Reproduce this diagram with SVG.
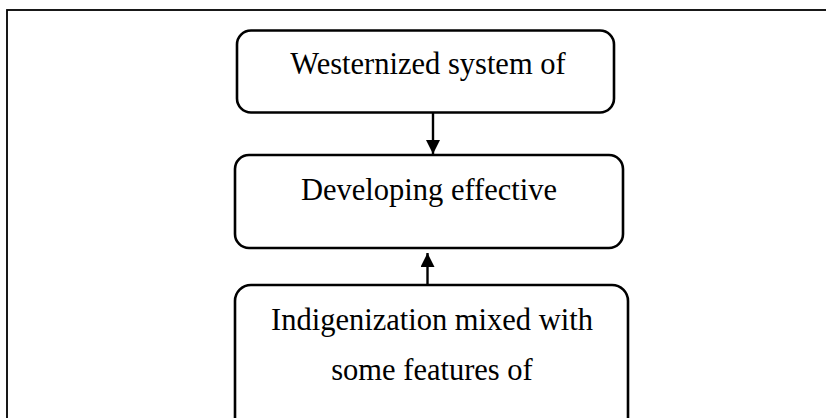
<svg xmlns="http://www.w3.org/2000/svg" width="826" height="418" viewBox="0 0 826 418">
  <style>
    .frame { fill: none; stroke: #000; stroke-width: 1.8; }
    .box { fill: #fff; stroke: #000; stroke-width: 2.6; }
    .label { font-family: "Liberation Serif", "Times New Roman", serif; font-size: 30.5px; fill: #000; text-anchor: middle; }
    .link { stroke: #000; stroke-width: 2.4; fill: none; }
  </style>
  <defs>
    <marker id="arrowhead" markerUnits="userSpaceOnUse" markerWidth="16" markerHeight="16" refX="14" refY="7" orient="auto">
      <path d="M0,0 L14,7 L0,14 Z" fill="#000"/>
    </marker>
  </defs>

  <rect width="826" height="418" fill="#fff"/>

  <!-- outer frame, running past the right and bottom edges -->
  <rect class="frame" x="7" y="10" width="840" height="430"/>

  <g id="connectors">
    <line class="link" x1="433" y1="112" x2="433" y2="154" marker-end="url(#arrowhead)"/>
    <line class="link" x1="427.5" y1="285" x2="427.5" y2="253" marker-end="url(#arrowhead)"/>
  </g>

  <g id="node-westernized">
    <rect class="box" x="237" y="30.5" width="377" height="82" rx="14" ry="14"/>
    <text class="label" x="428" y="74">Westernized system of</text>
  </g>

  <g id="node-developing">
    <rect class="box" x="235" y="155" width="388" height="93" rx="14" ry="14"/>
    <text class="label" x="429" y="200">Developing effective</text>
  </g>

  <g id="node-indigenization">
    <rect class="box" x="235" y="285" width="393" height="150" rx="16" ry="16"/>
    <text class="label" x="432" y="330">Indigenization mixed with</text>
    <text class="label" x="432" y="380">some features of</text>
  </g>
</svg>
